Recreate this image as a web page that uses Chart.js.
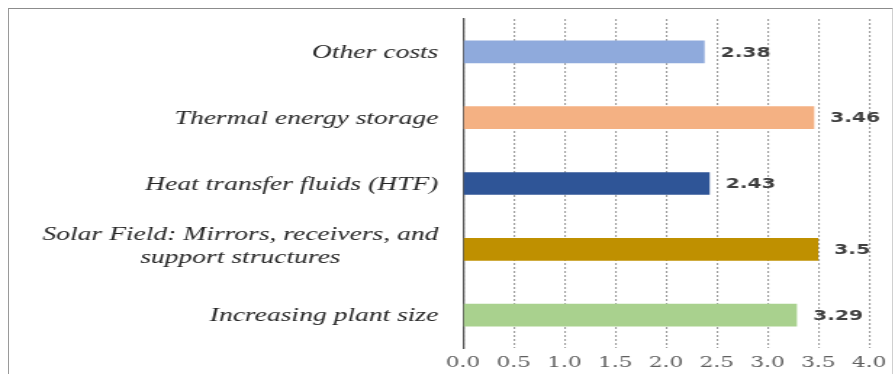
<!DOCTYPE html>
<html>
<head>
<meta charset="utf-8">
<script src="https://cdn.jsdelivr.net/npm/chart.js@4/dist/chart.umd.min.js"></script>
<style>
  html, body { margin: 0; padding: 0; background: #ffffff; overflow: hidden; }
  #frame {
    position: absolute; left: 8px; top: 8px; width: 885px; height: 380px;
    border-top: 1px solid #8c8c8c; border-left: 1px solid #9a9a9a; border-right: 1px solid #d0d0d0;
    box-sizing: border-box; pointer-events: none;
  }
  #wrap {
    position: absolute; left: 0; top: 0; width: 617px; height: 374px;
    transform: scaleX(1.4506); transform-origin: 0 0;
  }
</style>
</head>
<body>
<div id="wrap"><canvas id="chart" width="617" height="374"></canvas></div>
<div id="frame"></div>
<script>
// Cost-reduction factors, listed top to bottom
const categories = [
  'Other costs',
  'Thermal energy storage',
  'Heat transfer fluids (HTF)',
  ['Solar Field: Mirrors, receivers, and', 'support structures'],
  'Increasing plant size'
];
const values = [2.38, 3.46, 2.43, 3.5, 3.29];
const barColors = ['#8FAADC', '#F4B183', '#2F5597', '#BF9000', '#A9D18E'];
const tickValues = [0, 0.5, 1, 1.5, 2, 2.5, 3, 3.5, 4];
const tickLabels = ['0.0', '0.5', '1.0', '1.5', '2.0', '2.5', '3.0', '3.5', '4.0'];

const AXIS_LEFT = 319.2;   // width reserved for the category labels
const X_AXIS_HEIGHT = 26;

// Category labels: right-aligned blocks, multi-line blocks centred on themselves
const categoryLabels = {
  id: 'categoryLabels',
  afterDraw(chart) {
    const ctx = chart.ctx;
    const y = chart.scales.y;
    const right = y.right - 17;
    const lh = 23;
    ctx.save();
    ctx.font = 'italic 19px "Liberation Serif", "Times New Roman", serif';
    ctx.fillStyle = '#262626';
    ctx.textBaseline = 'middle';
    ctx.textAlign = 'center';
    categories.forEach((c, i) => {
      const lines = Array.isArray(c) ? c : [c];
      const maxW = Math.max(...lines.map(l => ctx.measureText(l).width));
      const cx = right - maxW / 2;
      const cy = y.getPixelForValue(i) + (lines.length > 1 ? -3 : 1);
      lines.forEach((l, j) => {
        ctx.fillText(l, cx, cy - (lines.length - 1) * lh / 2 + j * lh);
      });
    });
    ctx.restore();
  }
};

// Value labels to the right of each bar
const valueLabels = {
  id: 'valueLabels',
  afterDatasetsDraw(chart) {
    const ctx = chart.ctx;
    const meta = chart.getDatasetMeta(0);
    ctx.save();
    ctx.font = 'bold 14px "DejaVu Sans", Verdana, sans-serif';
    ctx.fillStyle = '#404040';
    ctx.textBaseline = 'middle';
    ctx.textAlign = 'left';
    meta.data.forEach((bar, i) => {
      ctx.fillText(String(values[i]), bar.x + 11, bar.y + 1);
    });
    ctx.restore();
  }
};

new Chart(document.getElementById('chart'), {
  type: 'bar',
  data: {
    labels: categories.map(c => Array.isArray(c) ? c.join(' ') : c),
    datasets: [{
      data: values,
      backgroundColor: barColors,
      borderWidth: 0,
      barPercentage: 0.345,
      categoryPercentage: 1
    }]
  },
  options: {
    indexAxis: 'y',
    responsive: false,
    animation: false,
    devicePixelRatio: 1,
    layout: { padding: { top: 19, right: 17, left: 0, bottom: 0 } },
    plugins: { legend: { display: false }, tooltip: { enabled: false } },
    scales: {
      x: {
        min: 0, max: 4,
        afterBuildTicks: s => { s.ticks = tickValues.map(v => ({ value: v })); },
        afterFit: s => { s.height = X_AXIS_HEIGHT; },
        ticks: {
          padding: 6,
          color: '#606060',
          font: { family: '"DejaVu Serif", serif', size: 15 },
          callback: (v, i) => tickLabels[i]
        },
        grid: { color: '#9c9c9c', lineWidth: 1.1, drawTicks: false },
        border: { display: false, dash: [2, 2] }
      },
      y: {
        afterFit: s => { s.width = AXIS_LEFT; },
        ticks: { display: false },
        grid: { display: false, drawTicks: false },
        border: { display: true, color: '#595959', width: 1.3 }
      }
    }
  },
  plugins: [categoryLabels, valueLabels]
});
</script>
</body>
</html>
